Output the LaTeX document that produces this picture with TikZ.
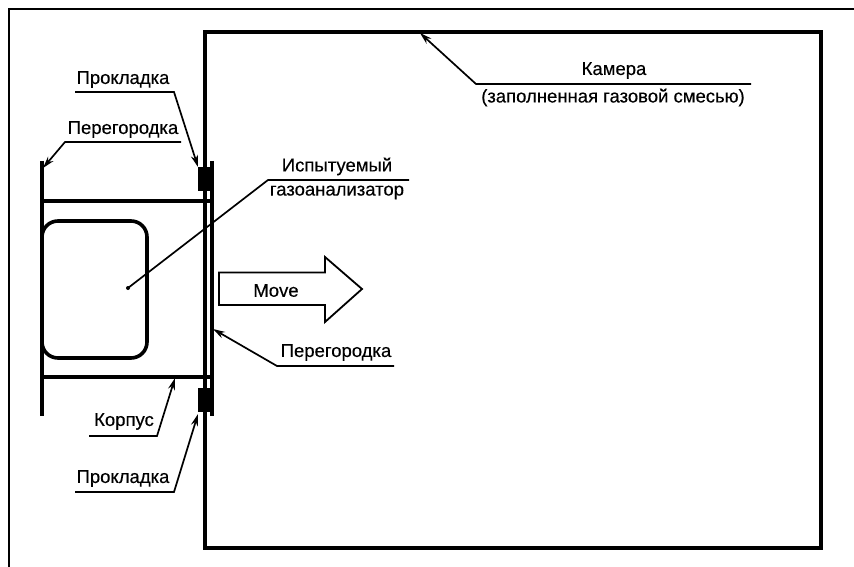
\documentclass[tikz,border=0pt]{standalone}
\usepackage{fontspec}
\setmainfont[FakeBold=0.3]{Liberation Sans}
\usetikzlibrary{arrows.meta}
\begin{document}
\begin{tikzpicture}[x=1pt,y=-1pt,>={Stealth[length=12pt,width=7pt]},
                    wall/.style={line width=3.6pt},
                    frame line/.style={line width=2.6pt},
                    leader/.style={line width=1.7pt,<-},
                    label node/.style={font=\fontsize{18.5}{20}\selectfont,inner sep=0pt,yshift=-1.5pt}]
  \useasboundingbox (0,0) rectangle (854,567);
  % frame and chamber
  \draw[frame line] (9,567) -- (9,9) -- (854,9);
  \draw[wall,line width=4pt] (205,32) rectangle (821,548);
  % housing
  \draw[wall] (42,161) -- (42,416);
  \draw[wall] (212,161) -- (212,416);
  \draw[wall] (42,201) -- (211,201);
  \draw[wall] (42,377) -- (211,377);
  \draw[wall,rounded corners=16pt] (42,221) rectangle (147,358);
  \fill (198,167) rectangle (212,191);
  \fill (198,388) rectangle (212,412);
  % arrow
  \draw[line width=1.8pt,miter limit=10] (219,272.5) -- (325,272.5) -- (325,257) -- (362,289)
    -- (325,322) -- (325,305) -- (219,305) -- cycle;
  \node[label node] (move) at (276,289) {Move};
  % leader points
  \coordinate (gasket1) at (198,167);
  \coordinate (shelf1a) at (174,92);
  \coordinate (shelf1b) at (75,92);
  \coordinate (wall1) at (43,168);
  \coordinate (shelf2a) at (65,142);
  \coordinate (shelf2b) at (181,142);
  \coordinate (chamber) at (420,33);
  \coordinate (shelf3a) at (476,84);
  \coordinate (shelf3b) at (751,84);
  \coordinate (dot) at (128,288);
  \coordinate (shelf4a) at (268,180);
  \coordinate (shelf4b) at (409,180);
  \coordinate (wall2) at (213,329);
  \coordinate (shelf5a) at (277,366);
  \coordinate (shelf5b) at (394,366);
  \coordinate (body) at (175,378);
  \coordinate (shelf6a) at (157,436);
  \coordinate (shelf6b) at (89,436);
  \coordinate (gasket2) at (198,414);
  \coordinate (shelf7a) at (174,492);
  \coordinate (shelf7b) at (75,492);
  \draw[leader] (gasket1) -- (shelf1a) -- (shelf1b);
  \draw[leader] (wall1) -- (shelf2a) -- (shelf2b);
  \draw[leader] (chamber) -- (shelf3a) -- (shelf3b);
  \draw[leader,-] (dot) -- (shelf4a) -- (shelf4b);
  \fill (dot) circle (2pt);
  \draw[leader] (wall2) -- (shelf5a) -- (shelf5b);
  \draw[leader] (body) -- (shelf6a) -- (shelf6b);
  \draw[leader] (gasket2) -- (shelf7a) -- (shelf7b);
  % labels
  \node[label node] (l1) at (123,78) {Прокладка};
  \node[label node] (l2) at (123,128) {Перегородка};
  \node[label node] (l3) at (614,69) {Камера};
  \node[label node] (l3b) at (613,96) {(заполненная газовой смесью)};
  \node[label node] (l4) at (337,165) {Испытуемый};
  \node[label node] (l4b) at (337,191) {газоанализатор};
  \node[label node] (l5) at (336,351) {Перегородка};
  \node[label node] (l6) at (124,420) {Корпус};
  \node[label node] (l7) at (123,477) {Прокладка};
\end{tikzpicture}
\end{document}
